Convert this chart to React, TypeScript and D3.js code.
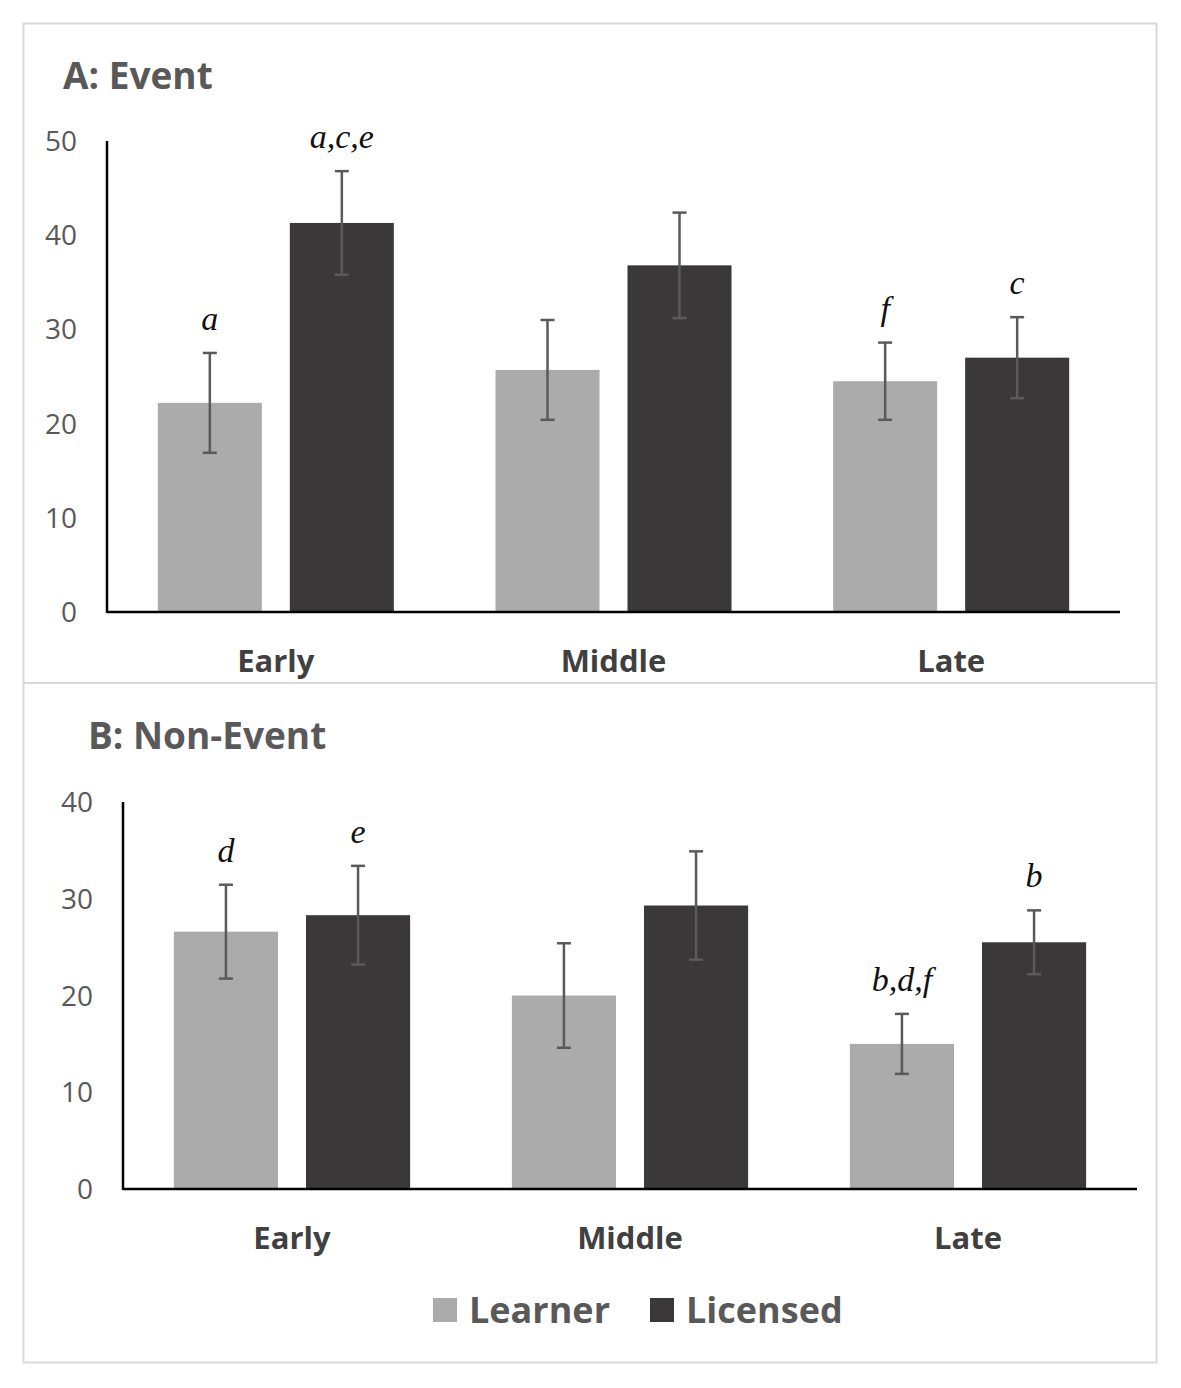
import * as d3 from 'd3'

const WIDTH = 1181
const HEIGHT = 1388

const PERIODS = ['Early', 'Middle', 'Late']
const GROUPS = ['Learner', 'Licensed']

// panel A: Event
const eventLearner = [22.2, 25.7, 24.5]
const eventLearnerErr = [5.3, 5.3, 4.1]
const eventLicensed = [41.3, 36.8, 27.0]
const eventLicensedErr = [5.5, 5.6, 4.3]
const eventLearnerNotes = ['a', '', 'f']
const eventLicensedNotes = ['a,c,e', '', 'c']
const eventTicks = [0, 10, 20, 30, 40, 50]

// panel B: Non-Event
const nonEventLearner = [26.6, 20.0, 15.0]
const nonEventLearnerErr = [4.85, 5.4, 3.1]
const nonEventLicensed = [28.3, 29.3, 25.5]
const nonEventLicensedErr = [5.1, 5.6, 3.3]
const nonEventLearnerNotes = ['d', '', 'b,d,f']
const nonEventLicensedNotes = ['e', '', 'b']
const nonEventTicks = [0, 10, 20, 30, 40]

const COLORS: Record<string, string> = { Learner: '#ababab', Licensed: '#3a3839' }
const FONT = "'Open Sans', 'Noto Sans', sans-serif"

type PanelProps = {
  title: string
  titleX: number
  titleY: number
  left: number
  right: number
  top: number
  bottom: number
  yMax: number
  ticks: number[]
  learner: number[]
  learnerErr: number[]
  licensed: number[]
  licensedErr: number[]
  learnerNotes: string[]
  licensedNotes: string[]
}

function Panel(p: PanelProps) {
  const x = d3.scaleBand().domain(PERIODS).range([p.left, p.right])
  const inner = d3
    .scaleBand()
    .domain(GROUPS)
    .range([0, x.bandwidth()])
    .paddingInner(0.212)
    .paddingOuter(0.385)
  const y = d3.scaleLinear().domain([0, p.yMax]).range([p.bottom, p.top])

  const series = [
    { key: 'Learner', vals: p.learner, errs: p.learnerErr, notes: p.learnerNotes },
    { key: 'Licensed', vals: p.licensed, errs: p.licensedErr, notes: p.licensedNotes },
  ]

  return (
    <g>
      <text x={p.titleX} y={p.titleY} fontFamily={FONT} fontWeight={700} fontSize={37} fill="#595959">
        {p.title}
      </text>
      {p.ticks.map((t) => (
        <text
          key={t}
          x={p.left - 30}
          y={y(t)}
          dy="0.36em"
          textAnchor="end"
          fontFamily={FONT}
          fontSize={28}
          fill="#595959"
        >
          {t}
        </text>
      ))}
      {series.map((s) =>
        PERIODS.map((per, i) => {
          const bx = (x(per) ?? 0) + (inner(s.key) ?? 0)
          const bw = inner.bandwidth()
          const cx = bx + bw / 2
          const hi = y(s.vals[i] + s.errs[i])
          const lo = y(s.vals[i] - s.errs[i])
          return (
            <g key={s.key + per}>
              <rect x={bx} y={y(s.vals[i])} width={bw} height={p.bottom - y(s.vals[i])} fill={COLORS[s.key]} />
              <g stroke="#5a5a5a" strokeWidth={2.5}>
                <line x1={cx} x2={cx} y1={hi} y2={lo} />
                <line x1={cx - 7} x2={cx + 7} y1={hi} y2={hi} />
                <line x1={cx - 7} x2={cx + 7} y1={lo} y2={lo} />
              </g>
              {s.notes[i] && (
                <text
                  x={cx}
                  y={hi - 23}
                  textAnchor="middle"
                  fontFamily="'Liberation Serif', 'DejaVu Serif', serif"
                  fontStyle="italic"
                  fontSize={34}
                  fill="#111"
                >
                  {s.notes[i]}
                </text>
              )}
            </g>
          )
        }),
      )}
      <line x1={p.left} x2={p.left} y1={p.top} y2={p.bottom + 1} stroke="#000" strokeWidth={2.5} />
      <line x1={p.left} x2={p.right} y1={p.bottom} y2={p.bottom} stroke="#000" strokeWidth={2.5} />
      {PERIODS.map((per) => (
        <text
          key={per}
          x={(x(per) ?? 0) + x.bandwidth() / 2}
          y={p.bottom + 60}
          textAnchor="middle"
          fontFamily={FONT}
          fontWeight={700}
          fontSize={31}
          fill="#404040"
        >
          {per}
        </text>
      ))}
    </g>
  )
}

export default function App() {
  return (
    <div style={{ position: 'absolute', left: 0, top: 0 }}>
      <svg width={WIDTH} height={HEIGHT} viewBox={`0 0 ${WIDTH} ${HEIGHT}`} style={{ display: 'block', background: '#fff' }}>
        <rect x={23.5} y={23.5} width={1133} height={1339} fill="#fff" stroke="#d9d9d9" strokeWidth={2} />
        <line x1={24} x2={1156} y1={683} y2={683} stroke="#d9d9d9" strokeWidth={2} />
        <Panel
          title="A: Event"
          titleX={63}
          titleY={89}
          left={107}
          right={1120}
          top={141}
          bottom={612}
          yMax={50}
          ticks={eventTicks}
          learner={eventLearner}
          learnerErr={eventLearnerErr}
          licensed={eventLicensed}
          licensedErr={eventLicensedErr}
          learnerNotes={eventLearnerNotes}
          licensedNotes={eventLicensedNotes}
        />
        <Panel
          title="B: Non-Event"
          titleX={88}
          titleY={749}
          left={123}
          right={1137}
          top={802}
          bottom={1189}
          yMax={40}
          ticks={nonEventTicks}
          learner={nonEventLearner}
          learnerErr={nonEventLearnerErr}
          licensed={nonEventLicensed}
          licensedErr={nonEventLicensedErr}
          learnerNotes={nonEventLearnerNotes}
          licensedNotes={nonEventLicensedNotes}
        />
        {GROUPS.map((g, i) => {
          const lx = [433, 650][i]
          return (
            <g key={g}>
              <rect x={lx} y={1298} width={24} height={24} fill={COLORS[g]} />
              <text x={lx + 36} y={1323} fontFamily={FONT} fontWeight={700} fontSize={36} fill="#595959">
                {g}
              </text>
            </g>
          )
        })}
      </svg>
    </div>
  )
}
